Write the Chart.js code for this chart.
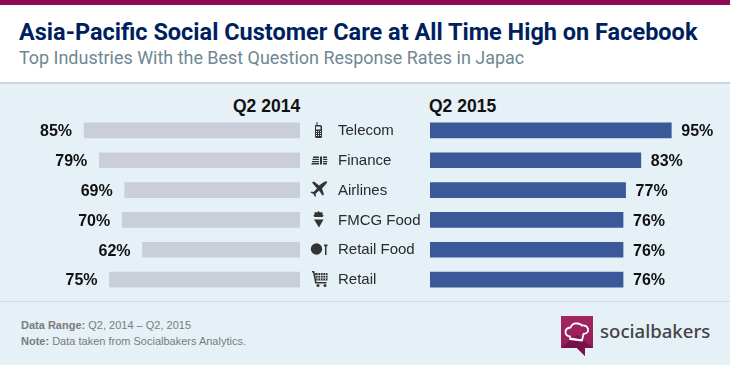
<!DOCTYPE html>
<html><head><meta charset="utf-8">
<style>
html,body{margin:0;padding:0;background:#fff}
#page{position:relative;width:730px;height:365px;overflow:hidden;background:#fff}
#page div,#page svg,#page canvas{position:absolute}
.t{white-space:nowrap}
</style>
<script src="https://cdn.jsdelivr.net/npm/chart.js@4"></script>
</head><body><div id="page">
<div style="left:0;top:0;width:730px;height:5px;background:#8e0b54"></div>
<div class="t" style="left:19px;top:15px;font:700 23.5px/34px Roboto;color:#001f5f">Asia-Pacific Social Customer Care at All Time High on Facebook</div>
<div class="t" style="left:19px;top:45px;font:400 17.95px/26px Roboto;color:#6f8793">Top Industries With the Best Question Response Rates in Japac</div>
<div style="left:0;top:82px;width:730px;height:283px;background:#e6f0f7"></div>
<div style="left:0;top:82px;width:730px;height:2px;background:#ccd6df"></div>
<div style="left:0;top:301px;width:730px;height:1px;background:#d0dce5"></div>
<div class="t" style="left:233px;top:96px;font:700 17.5px/20px 'Liberation Sans';color:#111">Q2 2014</div>
<div class="t" style="left:429px;top:96px;font:700 17.5px/20px 'Liberation Sans';color:#111">Q2 2015</div>
<canvas id="left" width="320" height="200" style="left:0;top:105px;width:320px;height:200px"></canvas>
<canvas id="right" width="400" height="200" style="left:330px;top:105px;width:400px;height:200px"></canvas>
<svg style="left:305px;top:118px" width="30" height="172" viewBox="0 0 30 172" fill="#333">
  <path d="M10.500 7h1V4h1v3h3q1.500 0 1.500 1.500v10q0 1.500-1.500 1.500h-4q-1.500 0-1.500-1.500V8.500q0-1.500.5-1.500z"/>
  <rect x="11" y="8.500" width="4.500" height="3" fill="#e6f0f7"/>
  <path d="M11 13h1v1h-1zM13 13h1v1h-1zM15 13h1v1h-1zM11 15h1v1h-1zM13 15h1v1h-1zM15 15h1v1h-1zM11 17h1v1h-1zM13 17h1v1h-1zM15 17h1v1h-1z" fill="#e6f0f7"/>
  <path d="M8 38.500h6v1.400H8zM7.500 40.700H14v1.400H7.500zM7 42.900h7v1.400H7zM6.500 45.100H14v1.400H6.500zM15 38.500h2v8h-2zM18 38.500h4v1.400h-4zM18 40.700h4.300v1.400H18zM18 42.900h4.300v1.400H18zM18 45.100h4v1.400h-4z"/>
  <path d="M7 64.500l2-1 5 4 5-3.500q2.500-1 3-.5t-1 2.500l-4 4.500 2 6-1.500 1-3.500-5-3.500 3.500.5 2-1 1-1.500-3-3-1.500 1-1 2 .5 3.500-3.500z"/>
  <path d="M13.500 93l1.500 1.500 2-.5 .8 1.500-.8 1q1.500 0 1.500 1.300l-1 1.200h-8l-1-1.200q0-1.300 1.500-1.300l-.8-1 .8-1.500 2 .5zM9 101.500h9.500L14 109.500z"/>
  <circle cx="11.500" cy="131" r="5.700"/><path d="M19 126.500h3.500v1.800h-1v8.700h-1.500v-8.700H19z"/>
  <path d="M7 153h2.300l2.200 11h10v1.500H10.200L8 154.500H7z"/>
  <path d="M10 155h12.500v7.500H11.500z"/><circle cx="13" cy="167.500" r="1.500"/><circle cx="20" cy="167.500" r="1.500"/>
  <path d="M10.500 157.500h12M11 160h11.500M13 155v7.500M15.500 155v7.500M18 155v7.500M20.500 155v7.500" stroke="#e6f0f7" stroke-width=".7" fill="none"/>
</svg>
<div class="t" style="left:21px;top:318px;font:700 11px/14px 'Liberation Sans';color:#7b7b7b">Data Range: <span style="font-weight:400">Q2, 2014 – Q2, 2015</span></div>
<div class="t" style="left:21px;top:334px;font:700 11px/14px 'Liberation Sans';color:#7b7b7b">Note: <span style="font-weight:400">Data taken from Socialbakers Analytics.</span></div>
<svg style="left:561px;top:316px" width="33" height="41" viewBox="0 0 33 41">
  <defs><linearGradient id="g" x1="0" y1="0" x2="0" y2="1"><stop offset="0" stop-color="#a3275f"/><stop offset="1" stop-color="#8f1a56"/></linearGradient></defs>
  <path d="M0 0h32v32h-8v8l-8-8H0z" fill="url(#g)"/>
  <path d="M0 32l16-13 16 13h-8v8l-8-8z" fill="#7a0f4a"/>
  <path d="M9 20.500q-4.500-.5-4.500-4.500t5-4.500q2-5 7-4t4 2q5.500-.5 6.500 3.500t-4.500 5l-1.500 6.500-12-1.500z" fill="none" stroke="#fff" stroke-width="1.800" stroke-linejoin="round"/>
  <path d="M9.500 22.500l11.500 1.500" stroke="#fff" stroke-width="1.500"/>
</svg>
<div class="t" style="left:600px;top:317px;font:500 18.6px/28px 'Noto Sans';color:#444">socialbakers</div>
</div>
<script>
const categories = ["Telecom","Finance","Airlines","FMCG Food","Retail Food","Retail"];
const q2014 = [85,79,69,70,62,75];
const q2015 = [95,83,77,76,76,76];
const labelPlugin = {
  id:'valueLabels',
  afterDatasetsDraw(chart,args,opts){
    const {ctx,scales:{x,y}} = chart;
    const data = chart.data.datasets[0].data;
    ctx.save();
    ctx.textBaseline = 'middle';
    data.forEach((v,i)=>{
      const cy = y.getPixelForValue(i);
      ctx.font = "700 16px 'Liberation Sans'";
      ctx.fillStyle = '#111';
      ctx.textAlign = opts.side === 'left' ? 'right' : 'left';
      const px = x.getPixelForValue(v) + (opts.side === 'left' ? -12 : 10);
      ctx.fillText(v+'%', px, cy+1.5);
      if(opts.side === 'right'){
        ctx.font = "400 15px 'Liberation Sans'";
        ctx.fillStyle = '#2a2a2a';
        ctx.textAlign = 'left';
        ctx.fillText(chart.data.labels[i], 8, cy+0.5);
      }
    });
    ctx.restore();
  }
};
const base = (color,data) => ({
  type:'bar',
  data:{labels:categories,datasets:[{data,backgroundColor:color,barThickness:15,borderWidth:0}]},
  plugins:[labelPlugin],
});
const opts = (side,padLeft,padRight) => ({
  indexAxis:'y',responsive:false,animation:false,
  layout:{padding:{left:padLeft,right:padRight,top:10.5,bottom:10.5}},
  plugins:{legend:{display:false},tooltip:{enabled:false},valueLabels:{side}},
  scales:{
    x:{display:false,min:0,max:100,reverse:side==='left'},
    y:{display:false}
  }
});
new Chart(document.getElementById('left'),Object.assign(base('#c9ced8',q2014),{
  options:opts('left',46,20)
}));
new Chart(document.getElementById('right'),Object.assign(base('#3b5998',q2015),{
  options:opts('right',100,46)
}));
</script>
</body></html>
